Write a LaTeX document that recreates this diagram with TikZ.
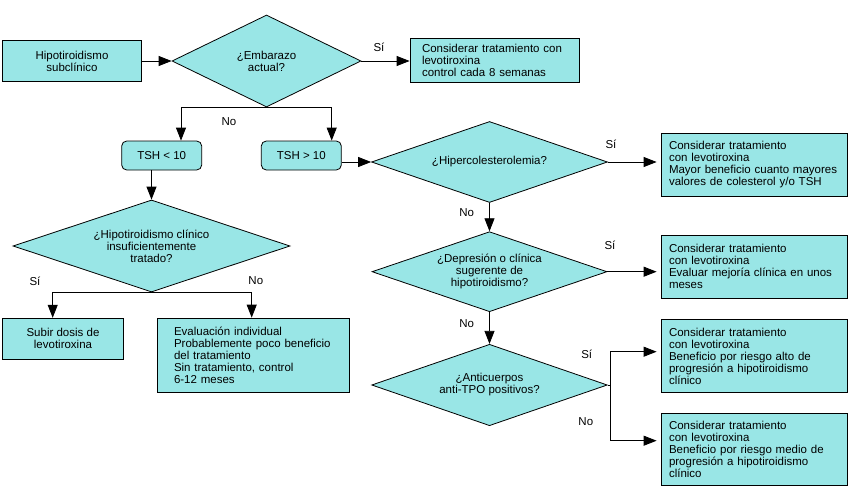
\documentclass[tikz,border=0pt]{standalone}
\usepackage{fontspec}
\setmainfont{Liberation Sans}
\usepackage{tikz}
\usetikzlibrary{arrows.meta, shapes.geometric}
\definecolor{boxfill}{RGB}{153,230,230}

\begin{document}
\begin{tikzpicture}[x=1pt, y=-1pt, font=\fontsize{11.5}{12}\selectfont,
                line width=0.8pt,
                box/.style={draw, fill=boxfill, inner sep=0pt, align=center},
                note/.style={box, align=left, inner xsep=8pt, text width=170pt, minimum width=186pt},
                tshbox/.style={box, rounded corners=5pt, minimum width=80pt, minimum height=29pt},
                decision/.style={diamond, draw, fill=boxfill, aspect=3, inner sep=0pt, align=center},
                flow/.style={-{Triangle[length=13pt, width=10pt]}},
                answer/.style={inner sep=0pt}]
                \useasboundingbox (0,0) rectangle (857,495);

                % Start and first question
                \node[box, minimum width=139pt, minimum height=41pt] (start) at (72,61) {Hipotiroidismo\\subclínico};
                \node[decision, minimum width=189pt, minimum height=92pt] (emb) at (266.5,61) {¿Embarazo\\actual?};
                \node[box, align=left, inner xsep=12pt, text width=145pt, minimum height=44pt] (consA) at (494.5,60)
                    {Considerar tratamiento con\\levotiroxina\\control cada 8 semanas};

                % TSH ranges
                \node[tshbox] (tshlo) at (161.7,155.5) {TSH < 10};
                \node[tshbox] (tshhi) at (301.3,155.5) {TSH > 10};

                % Left branch
                \node[decision, minimum width=277pt, minimum height=92pt] (hcl) at (151.5,246)
                    {¿Hipotiroidismo clínico\\insuficientemente\\tratado?};
                \node[box, minimum width=120.6pt, minimum height=41pt] (subir) at (63,338.7) {Subir dosis de\\levotiroxina};
                \node[box, align=left, inner xsep=16.3pt, text width=159pt, minimum height=74.7pt] (evalu) at (253.5,355.4)
                    {Evaluación individual\\Probablemente poco beneficio\\del tratamiento\\Sin tratamiento, control\\6-12 meses};

                % Right branch - questions
                \node[decision, minimum width=236pt, minimum height=81pt] (hyp) at (489.5,162) {¿Hipercolesterolemia?};
                \node[decision, minimum width=235pt, minimum height=80pt] (dep) at (489.5,271.7)
                    {¿Depresión o clínica\\sugerente de\\hipotiroidismo?};
                \node[decision, minimum width=235.6pt, minimum height=81.4pt] (anti) at (489.5,385)
                    {¿Anticuerpos\\anti-TPO positivos?};

                % Right branch - outcomes
                \node[note, minimum height=62.7pt] (consB) at (754,164.7)
                    {Considerar tratamiento\\con levotiroxina\\Mayor beneficio cuanto mayores\\valores de colesterol y/o TSH};
                \node[note, minimum height=63.3pt] (consC) at (754,266.7)
                    {Considerar tratamiento\\con levotiroxina\\Evaluar mejoría clínica en unos\\meses};
                \node[note, minimum height=73.4pt] (consD) at (754,356)
                    {Considerar tratamiento\\con levotiroxina\\Beneficio por riesgo alto de\\progresión a hipotiroidismo\\clínico};
                \node[note, minimum height=71.7pt] (consE) at (754,449.2)
                    {Considerar tratamiento\\con levotiroxina\\Beneficio por riesgo medio de\\progresión a hipotiroidismo\\clínico};
                \coordinate (fork) at (610.7,385);

                % Connectors
                \draw[flow] (start.east) -- (emb.west);
                \draw[flow] (emb.east) -- (emb.east -| consA.west);
                \draw[flow] (emb.south) -| ([xshift=19.3pt]tshlo.north);
                \draw[flow] (emb.south) -| ([xshift=30.4pt]tshhi.north);
                \draw[flow] (tshlo.south -| hcl.north) -- (hcl.north);
                \draw[flow] (hcl.south) -| ([xshift=-10.3pt]subir.north);
                \draw[flow] (hcl.south) -| ([xshift=-1.8pt]evalu.north);
                \draw[flow] (tshhi.east |- hyp.west) -- (hyp.west);
                \draw[flow, shorten >=4pt] (hyp.east) -- (hyp.east -| consB.west);
                \draw[flow] (hyp.south) -- (dep.north);
                \draw[flow, shorten >=4pt] (dep.east) -- (dep.east -| consC.west);
                \draw[flow] (dep.south) -- (anti.north);
                \draw[flow, shorten >=4pt] (anti.east) -- (fork) |- ([yshift=4.3pt]consD.west);
                \draw[flow, shorten >=4pt] (fork) |- ([yshift=8.5pt]consE.west);

                % Answers
                \node[answer] (a1) at (379,47) {Sí};
                \node[answer] (a2) at (229,121.5) {No};
                \node[answer] (a3) at (35,281) {Sí};
                \node[answer] (a4) at (255.8,281) {No};
                \node[answer] (a5) at (611,144) {Sí};
                \node[answer] (a6) at (466.7,212.5) {No};
                \node[answer] (a7) at (610,245.8) {Sí};
                \node[answer] (a8) at (466.7,324) {No};
                \node[answer] (a9) at (586.7,354.2) {Sí};
                \node[answer] (a10) at (585.8,422) {No};
            \end{tikzpicture}
\end{document}
